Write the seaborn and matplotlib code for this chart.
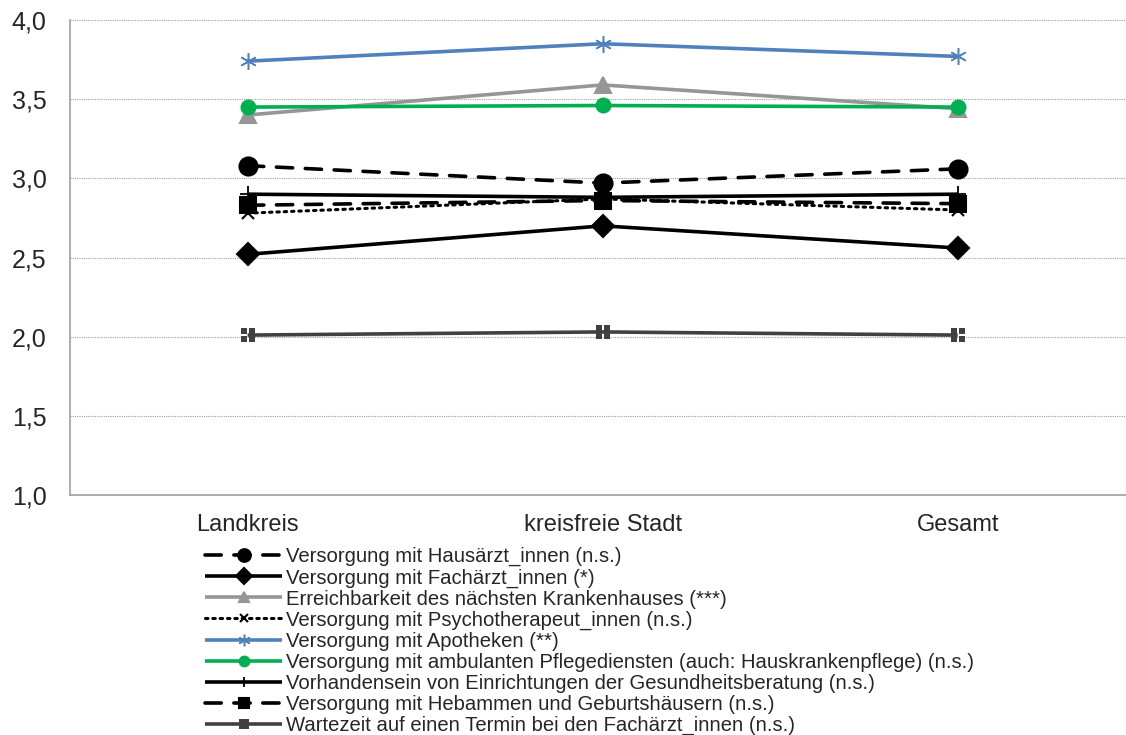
import matplotlib
matplotlib.use("Agg")
import matplotlib.pyplot as plt
from matplotlib.path import Path
import seaborn as sns

categories = ["Landkreis", "kreisfreie Stadt", "Gesamt"]

hausarzt = [3.08, 2.97, 3.06]
facharzt = [2.52, 2.70, 2.56]
krankenhaus = [3.40, 3.59, 3.44]
psycho = [2.78, 2.87, 2.80]
apotheken = [3.74, 3.85, 3.77]
pflege = [3.45, 3.46, 3.45]
beratung = [2.90, 2.88, 2.90]
hebammen = [2.83, 2.86, 2.84]
wartezeit = [2.01, 2.03, 2.01]

labels = [
    "Versorgung mit Hausärzt_innen (n.s.)",
    "Versorgung mit Fachärzt_innen (*)",
    "Erreichbarkeit des nächsten Krankenhauses (***)",
    "Versorgung mit Psychotherapeut_innen (n.s.)",
    "Versorgung mit Apotheken (**)",
    "Versorgung mit ambulanten Pflegediensten (auch: Hauskrankenpflege) (n.s.)",
    "Vorhandensein von Einrichtungen der Gesundheitsberatung (n.s.)",
    "Versorgung mit Hebammen und Geburtshäusern (n.s.)",
    "Wartezeit auf einen Termin bei den Fachärzt_innen (n.s.)",
]
values = [hausarzt, facharzt, krankenhaus, psycho, apotheken,
          pflege, beratung, hebammen, wartezeit]

# square with a thin white cross cut out (four small squares)
verts, codes = [], []
for cx in (-1, 1):
    for cy in (-1, 1):
        x0, x1 = sorted([cx * 0.09, cx * 1.0])
        y0, y1 = sorted([cy * 0.09, cy * 1.0])
        verts += [(x0, y0), (x1, y0), (x1, y1), (x0, y1), (x0, y0)]
        codes += [Path.MOVETO, Path.LINETO, Path.LINETO, Path.LINETO, Path.CLOSEPOLY]
cross_square = Path(verts, codes)

styles = [
    dict(color="black", ls=(0, (4.5, 3.5)), marker="o", ms=13, mew=1.5),
    dict(color="black", ls="-", marker="D", ms=11, mew=1.5),
    dict(color="#969696", ls="-", marker="^", ms=11, mew=1.5),
    dict(color="black", ls=(0, (0.8, 1.6)), marker="x", ms=9, lw=2.2, mew=1.5),
    dict(color="#4f81bd", ls="-", marker=(6, 2, 0), ms=12, mew=1.1),
    dict(color="#00b050", ls="-", marker="o", ms=10, mew=1.5),
    dict(color="black", ls="-", marker="+", ms=11, mew=1.3),
    dict(color="black", ls=(0, (4.5, 3.5)), marker="s", ms=11, mew=1.5),
    dict(color="#404040", ls="-", marker=cross_square, ms=10, mew=0),
]

sns.set_style("white")
plt.rcParams["font.family"] = ["Liberation Sans", "DejaVu Sans"]

fig = plt.figure(figsize=(11.26, 7.35), dpi=100)
ax = fig.add_axes([0.0622, 0.3265, 0.946, 0.6463])

xpos = list(range(len(categories)))
for lab, vals, st in zip(labels, values, styles):
    sns.lineplot(x=xpos, y=vals, ax=ax, label=lab, color=st["color"],
                 linestyle=st["ls"], marker=st["marker"], markersize=st["ms"],
                 markeredgewidth=st["mew"], markeredgecolor=st["color"],
                 linewidth=st.get("lw", 2.6), dash_capstyle="round",
                 solid_capstyle="butt")

ax.set_xlim(-0.5, 2.5)
ax.set_ylim(1.0, 4.0)
ax.set_yticks([1.0, 1.5, 2.0, 2.5, 3.0, 3.5, 4.0])
ax.set_yticklabels([f"{v:.1f}".replace(".", ",") for v in ax.get_yticks()])
ax.set_xticks(xpos)
ax.set_xticklabels(categories)
ax.set_xticks([-0.5, 0.5, 1.5, 2.5], minor=True)
ax.tick_params(axis="x", which="major", length=0, pad=14, labelsize=17)
ax.tick_params(axis="x", which="minor", length=6, width=1, color="#a0a0a0")
ax.tick_params(axis="y", length=6, width=1, color="#a0a0a0", pad=11, labelsize=18)
ax.set_xlabel("")
ax.set_ylabel("")

ax.yaxis.grid(True, linestyle=(0, (1, 1)), color="#a0a0a0", linewidth=0.8)
ax.xaxis.grid(False)
for s in ["top", "right"]:
    ax.spines[s].set_visible(False)
for s in ["left", "bottom"]:
    ax.spines[s].set_color("#a0a0a0")
    ax.spines[s].set_linewidth(1.2)

ax.legend(loc="upper left", bbox_to_anchor=(205 / 1126, 1 - 547 / 735),
          bbox_transform=fig.transFigure, frameon=False, fontsize=14.6,
          handlelength=3.8, handletextpad=0.2, labelspacing=0.1,
          borderaxespad=0, borderpad=0, markerscale=0.7)

fig.savefig("out.png", dpi=100)
